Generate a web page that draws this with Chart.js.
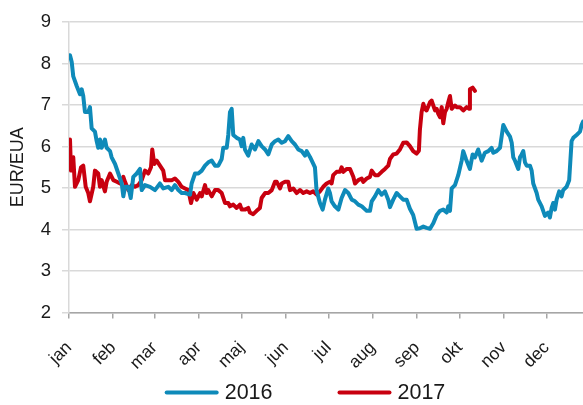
<!DOCTYPE html>
<html>
<head>
<meta charset="utf-8">
<script src="https://cdn.jsdelivr.net/npm/chart.js@4.4.1/dist/chart.umd.min.js"></script>
<style>
  html, body { margin: 0; padding: 0; background: #ffffff; }
  #wrap { width: 583px; height: 405px; }
</style>
</head>
<body>
<div id="wrap"><canvas id="myChart" width="583" height="405"></canvas></div>
<script>
// month labels and their first day (day of year, leap year calendar)
const monthNames = ["jan", "feb", "mar", "apr", "maj", "jun", "jul", "aug", "sep", "okt", "nov", "dec"];
const monthStarts = [0, 31, 60, 91, 121, 152, 182, 213, 244, 274, 305, 335];
const yTicks = [2, 3, 4, 5, 6, 7, 8, 9];

// 2016 series (day of year, EUR/EUA)
const days2016 = [0.7, 1.9, 3.0, 5.4, 7.7, 8.9, 10.0, 11.2, 13.5, 14.7, 15.9, 18.2, 19.4, 20.5, 21.7, 22.9, 25.2, 26.4, 28.8, 29.9,
  32.3, 34.6, 37.0, 38.1, 39.3, 41.6, 43.3, 45.1, 47.5, 49.8, 51.0, 53.3, 56.8, 60.3, 63.8, 66.1, 69.6, 72.0, 74.3, 76.7,
  79.0, 81.4, 84.9, 86.0, 88.4, 90.7, 93.1, 95.4, 97.7, 100.1, 102.4, 104.7, 107.1, 108.2, 110.6, 111.7, 112.9, 114.1, 115.2, 117.6,
  119.9, 121.1, 122.2, 123.4, 125.7, 128.1, 130.4, 132.8, 135.1, 137.5, 139.8, 142.2, 144.5, 146.8, 149.2, 151.5, 153.8, 156.2, 158.5, 160.8,
  163.2, 165.5, 166.7, 169.0, 171.1, 172.5, 173.6, 176.0, 177.9, 179.5, 181.8, 183.0, 184.2, 186.5, 188.9, 191.2, 193.6, 195.9, 198.3, 200.6,
  202.9, 205.3, 208.8, 211.1, 212.3, 214.6, 216.9, 219.3, 221.6, 223.9, 225.1, 227.4, 229.8, 232.1, 234.4, 236.8, 239.1, 241.4, 243.8, 246.1,
  248.5, 250.8, 253.2, 255.5, 257.9, 260.2, 262.5, 264.9, 266.0, 267.2, 268.4, 270.7, 273.0, 275.4, 276.5, 278.4, 281.2, 283.1, 284.7, 287.0,
  289.4, 291.7, 294.1, 296.4, 297.6, 299.9, 302.3, 304.6, 307.0, 309.3, 310.5, 311.6, 312.8, 315.1, 316.3, 317.5, 318.6, 319.8, 321.0, 323.3,
  324.5, 325.6, 328.0, 329.1, 331.5, 333.8, 336.1, 337.3, 338.5, 339.6, 340.8, 342.0, 343.8, 345.5, 346.6, 349.0, 350.8, 352.5, 353.7, 356.0,
  358.4, 359.5, 360.5];
const eur2016 = [8.20, 8.04, 7.69, 7.46, 7.26, 7.38, 7.22, 6.83, 6.83, 6.95, 6.44, 6.36, 6.13, 5.97, 6.17, 5.97, 6.17, 5.97, 5.89, 5.74,
  5.58, 5.35, 5.11, 4.80, 5.03, 5.03, 4.76, 5.27, 5.35, 5.46, 4.95, 5.07, 5.03, 4.95, 5.11, 4.99, 5.03, 4.95, 5.07, 4.95,
  4.88, 4.88, 4.84, 5.11, 5.35, 5.35, 5.42, 5.54, 5.62, 5.66, 5.54, 5.54, 5.70, 5.97, 5.97, 6.28, 6.83, 6.91, 6.28, 6.21,
  6.17, 6.01, 6.21, 5.93, 5.78, 6.05, 5.93, 6.13, 6.01, 5.93, 5.81, 6.05, 6.13, 6.17, 6.09, 6.13, 6.25, 6.13, 6.05, 5.93,
  5.89, 5.78, 5.89, 5.75, 5.60, 5.50, 4.95, 4.64, 4.48, 4.72, 4.99, 4.88, 4.68, 4.56, 4.48, 4.76, 4.95, 4.88, 4.72, 4.68,
  4.60, 4.56, 4.45, 4.45, 4.68, 4.80, 4.95, 4.84, 4.92, 4.72, 4.54, 4.72, 4.88, 4.80, 4.72, 4.72, 4.50, 4.35, 4.02, 4.03,
  4.07, 4.04, 4.02, 4.15, 4.35, 4.45, 4.48, 4.41, 4.56, 4.45, 4.99, 5.07, 5.31, 5.66, 5.89, 5.70, 5.46, 5.81, 5.74, 5.93,
  5.66, 5.85, 5.89, 5.97, 5.85, 5.89, 5.97, 6.52, 6.36, 6.24, 6.09, 5.74, 5.66, 5.46, 5.74, 5.81, 5.89, 5.62, 5.54, 5.54,
  5.42, 5.11, 4.88, 4.72, 4.56, 4.33, 4.41, 4.29, 4.52, 4.64, 4.48, 4.72, 4.92, 4.80, 4.95, 5.03, 5.19, 6.13, 6.21, 6.28,
  6.36, 6.52, 6.60];

// 2017 series, runs to mid October
const days2017 = [0.7, 1.4, 3.0, 4.2, 6.5, 8.4, 10.0, 11.7, 13.5, 14.7, 17.0, 18.2, 20.5, 21.7, 22.9, 25.2, 26.4, 28.8, 31.1, 33.5,
  35.8, 38.1, 39.3, 41.6, 44.0, 46.3, 48.6, 51.0, 53.3, 55.6, 57.5, 58.4, 59.8, 61.5, 63.8, 66.1, 67.3, 69.6, 72.0, 74.3,
  76.7, 79.0, 81.4, 83.7, 85.6, 87.2, 89.6, 91.9, 93.1, 95.4, 96.6, 97.7, 100.1, 102.4, 104.7, 107.1, 109.4, 111.7, 112.9, 115.2,
  117.6, 119.9, 121.1, 123.4, 125.7, 126.9, 129.2, 131.6, 133.9, 135.1, 137.5, 139.8, 142.2, 144.5, 145.7, 148.0, 149.2, 151.5, 153.8, 155.0,
  157.3, 159.7, 162.0, 164.3, 166.7, 169.0, 171.3, 173.7, 176.0, 178.3, 180.7, 183.0, 184.2, 185.3, 187.7, 190.0, 191.2, 192.4, 194.7, 197.1,
  199.4, 200.6, 202.9, 205.3, 206.4, 208.8, 211.1, 212.3, 214.6, 216.9, 219.3, 221.6, 223.9, 225.1, 227.4, 229.8, 232.1, 234.4, 236.8, 239.1,
  241.4, 243.8, 245.4, 246.1, 247.3, 248.5, 249.6, 250.8, 253.2, 254.3, 255.5, 256.7, 257.9, 259.0, 260.2, 261.4, 262.5, 263.7, 264.9, 266.0,
  267.2, 268.4, 269.5, 270.7, 271.9, 274.2, 276.5, 278.9, 280.7, 281.2, 283.1, 284.7];
const eur2017 = [6.17, 5.42, 5.74, 5.03, 5.19, 5.50, 5.54, 5.03, 4.88, 4.68, 5.03, 5.42, 5.35, 5.03, 5.19, 4.92, 5.15, 5.35, 5.19, 5.15,
  5.11, 5.27, 5.15, 4.95, 5.07, 5.03, 5.07, 5.19, 5.42, 5.35, 5.50, 5.93, 5.58, 5.66, 5.54, 5.42, 5.19, 5.19, 5.19, 5.23,
  5.15, 5.03, 4.99, 4.95, 4.64, 4.88, 4.72, 4.88, 4.80, 5.07, 4.88, 4.95, 4.80, 4.95, 4.95, 4.88, 4.64, 4.64, 4.56, 4.60,
  4.52, 4.60, 4.48, 4.48, 4.52, 4.41, 4.37, 4.45, 4.52, 4.76, 4.88, 4.88, 4.95, 5.15, 5.15, 4.99, 5.11, 5.15, 5.15, 4.95,
  4.99, 4.88, 4.95, 4.88, 4.92, 4.88, 4.92, 4.84, 4.92, 5.03, 5.11, 5.15, 5.11, 5.31, 5.39, 5.39, 5.50, 5.39, 5.46, 5.46,
  5.27, 5.11, 5.19, 5.23, 5.15, 5.23, 5.27, 5.42, 5.31, 5.31, 5.39, 5.46, 5.54, 5.70, 5.81, 5.83, 5.93, 6.09, 6.10, 6.01,
  5.89, 5.83, 5.90, 6.40, 6.83, 7.03, 6.91, 6.87, 7.07, 7.11, 6.99, 6.87, 6.91, 6.79, 6.71, 6.95, 6.56, 6.83, 6.91, 7.07,
  7.22, 6.91, 6.95, 6.99, 6.95, 6.95, 6.87, 6.95, 6.91, 7.38, 7.42, 7.34];

const blue = "#0e8ab9";
const red = "#c8000f";
const fontName = "'Liberation Sans', Arial, sans-serif";

// build {x, y} points from the arrays
function toPoints(days, values) {
  return days.map((d, i) => ({ x: d, y: values[i] }));
}

// legend drawn as thick line + label under the axis
const lineLegend = {
  id: "lineLegend",
  afterDraw(chart) {
    const ctx = chart.ctx;
    const sets = chart.data.datasets;
    const lineW = 54;
    const gap = 6;
    const itemGap = 65;
    const y = chart.height - 12.5;
    ctx.save();
    ctx.font = "21.5px " + fontName;
    let total = 0;
    const widths = sets.map((s) => ctx.measureText(s.label).width);
    widths.forEach((w, i) => { total += lineW + gap + w + (i > 0 ? itemGap : 0); });
    let x = 305 - total / 2;
    sets.forEach((s, i) => {
      ctx.strokeStyle = s.borderColor;
      ctx.lineWidth = 4;
      ctx.lineCap = "round";
      ctx.beginPath();
      ctx.moveTo(x + 2, y);
      ctx.lineTo(x + lineW - 2, y);
      ctx.stroke();
      ctx.fillStyle = "#1a1a1a";
      ctx.textBaseline = "middle";
      ctx.fillText(s.label, x + lineW + gap, y + 1);
      x += lineW + gap + widths[i] + itemGap;
    });
    ctx.restore();
  },
};

const canvas = document.getElementById("myChart");

new Chart(canvas, {
  type: "line",
  data: {
    datasets: [
      {
        label: "2016",
        data: toPoints(days2016, eur2016),
        borderColor: blue,
        backgroundColor: blue,
        borderWidth: 4,
        pointRadius: 0,
        tension: 0,
        borderJoinStyle: "round",
        borderCapStyle: "round",
      },
      {
        label: "2017",
        data: toPoints(days2017, eur2017),
        borderColor: red,
        backgroundColor: red,
        borderWidth: 4,
        pointRadius: 0,
        tension: 0,
        borderJoinStyle: "round",
        borderCapStyle: "round",
      },
    ],
  },
  options: {
    responsive: false,
    animation: false,
    layout: { padding: { top: 14, right: 0, bottom: 0, left: 0 } },
    plugins: {
      legend: { display: false },
      tooltip: { enabled: false },
    },
    scales: {
      x: {
        type: "linear",
        min: 0,
        max: 360.5,
        afterBuildTicks: (scale) => {
          scale.ticks = monthStarts.map((v) => ({ value: v }));
        },
        afterFit: (scale) => {
          scale.height = 92.5;
        },
        ticks: {
          autoSkip: false,
          minRotation: 45,
          maxRotation: 45,
          padding: 19,
          color: "#1a1a1a",
          font: { family: fontName, size: 17.5 },
          callback: (value) => monthNames[monthStarts.indexOf(value)],
        },
        grid: {
          drawOnChartArea: false,
          drawTicks: true,
          tickLength: 6,
          color: "#a6a6a6",
          lineWidth: 1.5,
        },
        border: { color: "#a6a6a6", width: 1.5 },
      },
      y: {
        min: 2,
        max: 9,
        afterBuildTicks: (scale) => {
          scale.ticks = yTicks.map((v) => ({ value: v }));
        },
        afterFit: (scale) => {
          scale.width = 69;
        },
        ticks: {
          padding: 11,
          color: "#1a1a1a",
          font: { family: fontName, size: 18.5 },
        },
        grid: {
          color: "#d9d9d9",
          lineWidth: 1.5,
          tickLength: 7,
        },
        border: { color: "#d9d9d9", width: 1.5 },
        title: {
          display: true,
          text: "EUR/EUA",
          color: "#1a1a1a",
          font: { family: fontName, size: 18 },
          padding: { top: 7, bottom: 0 },
        },
      },
    },
  },
  plugins: [lineLegend],
});
</script>
</body>
</html>
